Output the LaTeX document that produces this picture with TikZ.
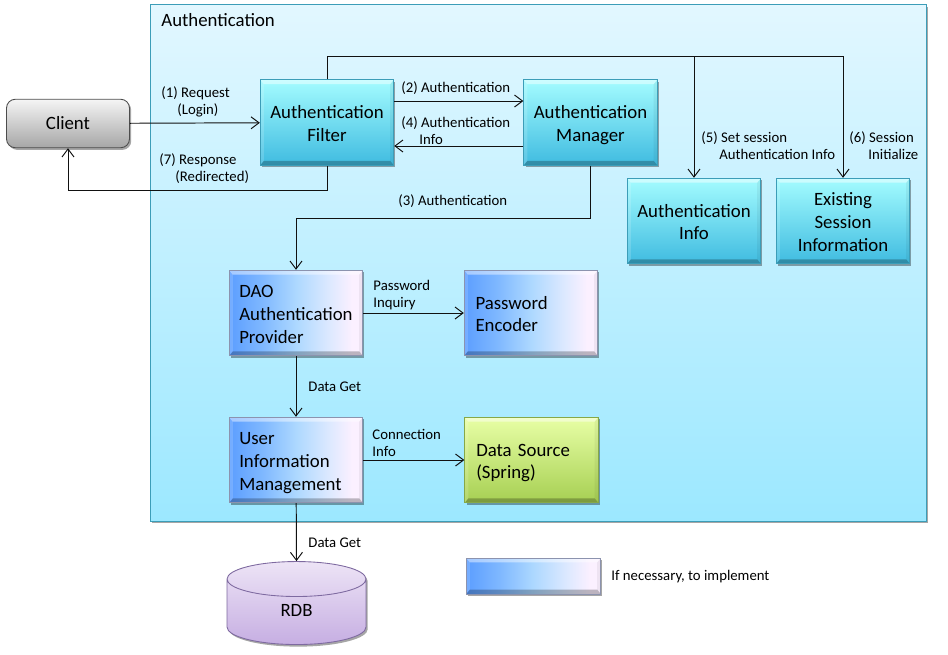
\documentclass[tikz,border=0pt]{standalone}
\usepackage{fontspec}
\setmainfont{Carlito}
\usetikzlibrary{arrows.meta, shapes.geometric, shadows}
\definecolor{ctop}{HTML}{A4FCFF}
\definecolor{cbot}{HTML}{3FBBE0}
\definecolor{cedge}{HTML}{3C9DB8}
\definecolor{cpane}{HTML}{E2F7FF}
\definecolor{cpanb}{HTML}{9CE8FF}
\definecolor{cblue}{HTML}{5C9EFF}
\definecolor{cbluea}{HTML}{7FB8FF}
\definecolor{cblueb}{HTML}{ADD8FF}
\definecolor{cbluec}{HTML}{DDE9FF}
\definecolor{cpink}{HTML}{FBF0FF}
\definecolor{cbedge}{HTML}{8C93AE}
\definecolor{cgtop}{HTML}{E8FFA6}
\definecolor{cgbot}{HTML}{A6CF52}
\definecolor{cgedge}{HTML}{86A848}
\definecolor{cptop}{HTML}{EDE4F6}
\definecolor{cpbot}{HTML}{C6AEE2}
\definecolor{cpedge}{HTML}{7E6AA0}
\definecolor{cline}{HTML}{111111}
\pgfdeclarehorizontalshading{implshade}{100bp}{color(0bp)=(cblue); color(25bp)=(cblue); color(37.5bp)=(cbluea); color(50bp)=(cblueb); color(62.5bp)=(cbluec); color(71bp)=(cpink); color(100bp)=(cpink)}
\tikzset{
  every picture/.style={x=0.02cm, y=-0.02cm, line width=0.5pt},
  bevel/.style={path picture={
    \fill[white, opacity=.45] (path picture bounding box.north west) -- (path picture bounding box.north east) -- ([shift={(-2pt,-2.5pt)}]path picture bounding box.north east) -- ([shift={(2pt,-2.5pt)}]path picture bounding box.north west) -- cycle;
    \fill[black, opacity=.25] (path picture bounding box.south west) -- (path picture bounding box.south east) -- ([shift={(-2pt,2.5pt)}]path picture bounding box.south east) -- ([shift={(2pt,2.5pt)}]path picture bounding box.south west) -- cycle;
    \fill[black, opacity=.05] (path picture bounding box.north east) -- (path picture bounding box.south east) -- ([shift={(-2pt,2.5pt)}]path picture bounding box.south east) -- ([shift={(-2pt,-2.5pt)}]path picture bounding box.north east) -- cycle;
    \fill[white, opacity=.15] (path picture bounding box.north west) -- (path picture bounding box.south west) -- ([shift={(2pt,2.5pt)}]path picture bounding box.south west) -- ([shift={(2pt,-2.5pt)}]path picture bounding box.north west) -- cycle;
  }},
  soft/.style={drop shadow={shadow xshift=1pt, shadow yshift=-1.2pt, opacity=.35, fill=black}},
  boxtext/.style={font=\fontsize{10.7}{13}\selectfont},
  box/.style={boxtext, soft, bevel, minimum height=1.71cm, inner xsep=0.2cm, inner ysep=0pt},
  textstrut/.style={execute at begin node=\rule{0pt}{10.8pt}, execute at end node=\rule[-2.2pt]{0pt}{0pt}},
  cyanbox/.style={box, textstrut, draw=cedge, top color=ctop, bottom color=cbot, inner xsep=0.17cm, text width=2.33cm, align=center},
  implbox/.style={box, textstrut, draw=cbedge, shading=implshade, text width=2.27cm, align=left},
  springbox/.style={box, textstrut, draw=cgedge, top color=cgtop, bottom color=cgbot, inner xsep=0.23cm, text width=2.21cm, align=left},
  arrow/.style={-{Straight Barb[length=1.6mm, width=2.4mm]}, draw=cline, line width=0.55pt},
  link/.style={draw=cline, line width=0.55pt},
  note/.style={font=\fontsize{8.4}{9.7}\selectfont, align=left, anchor=west, inner sep=0pt},
}
\begin{document}
\begin{tikzpicture}
  \useasboundingbox (0,0) rectangle (948,654);
  \node[soft, draw=cedge, top color=cpane, bottom color=cpanb, minimum width=15.53cm, minimum height=10.33cm, inner sep=0pt] (auth) at (538.5,263) {};
  \node[boxtext, anchor=west, inner sep=0pt] (authtitle) at (161,20) {Authentication};

  \node[boxtext, soft, draw=black!70, rounded corners=5pt, top color=black!4, bottom color=black!35, minimum width=2.46cm, minimum height=0.97cm] (client) at (68,123.5) {Client};
  \node[cyanbox] (filter) at (327,122.5) {Authentication\\Filter};
  \node[cyanbox] (manager) at (590.5,122.5) {Authentication\\Manager};
  \node[cyanbox] (authinfo) at (694,221) {Authentication\\Info};
  \node[cyanbox] (existing) at (843,221) {Existing\\Session\\Information};
  \node[implbox] (dao) at (296,313) {DAO\\Authentication\\Provider};
  \node[implbox, inner xsep=0.225cm, text width=2.22cm] (encoder) at (531,313) {Password\\Encoder};
  \node[implbox] (userinfo) at (296,460) {User\\Information\\Management};
  \node[springbox] (source) at (531.5,460) {Data Source\\(Spring)};
  \node[boxtext, cylinder, shape border rotate=90, aspect=0.8, draw=cpedge, soft, top color=cptop, bottom color=cpbot, minimum width=2.78cm, minimum height=1.66cm] (rdb) at (296.5,615.5) {\raisebox{6.2pt}{RDB}};
  \node[box, draw=cbedge, shading=implshade, minimum width=2.69cm, minimum height=0.72cm] (legend) at (533.5,576) {};

  \coordinate (rail) at (694,56);
  \coordinate (back) at (68,190);
  \coordinate (down) at (296,218);
  \draw[arrow] (client) -- (filter);
  \draw[arrow] (filter.south) |- (back) -- (client.south);
  \draw[link] (filter.north) |- (rail);
  \draw[arrow] (rail) -- (authinfo.north);
  \draw[arrow] (rail) -| (existing.north);
  \draw[arrow] ([yshift=0.43cm]filter.east) -- ([yshift=0.43cm]manager.west);
  \draw[arrow] ([yshift=-0.47cm]manager.west) -- ([yshift=-0.47cm]filter.east);
  \draw[arrow] (manager.south) |- (down) -- (dao.north);
  \draw[arrow] (dao) -- (encoder);
  \draw[arrow] (dao) -- (userinfo);
  \draw[arrow] (userinfo) -- (source);
  \draw[arrow] (userinfo) -- (rdb.north);

  \node[note] (req) at (161,102) {(1) Request\\\hspace*{0.32cm}(Login)};
  \node[note] (resp) at (159,169) {(7) Response\\\hspace*{0.32cm}(Redirected)};
  \node[note] (step2) at (401,88.5) {(2) Authentication};
  \node[note] (step4) at (401,131) {(4) Authentication\\\hspace*{0.36cm}Info};
  \node[note] (step3) at (398,201.5) {(3) Authentication};
  \node[note] (step5) at (701,146) {(5) Set session\\\hspace*{0.36cm}Authentication Info};
  \node[note] (step6) at (849,146) {(6) Session\\\hspace*{0.38cm}Initialize};
  \node[note] (inquiry) at (373,295) {Password\\Inquiry};
  \node[note] (get1) at (308,386.5) {Data Get};
  \node[note] (conn) at (372,443) {Connection\\Info};
  \node[note] (get2) at (308,542.5) {Data Get};
  \node[note] (legendtext) at (611,576.5) {If necessary, to implement};
\end{tikzpicture}
\end{document}
